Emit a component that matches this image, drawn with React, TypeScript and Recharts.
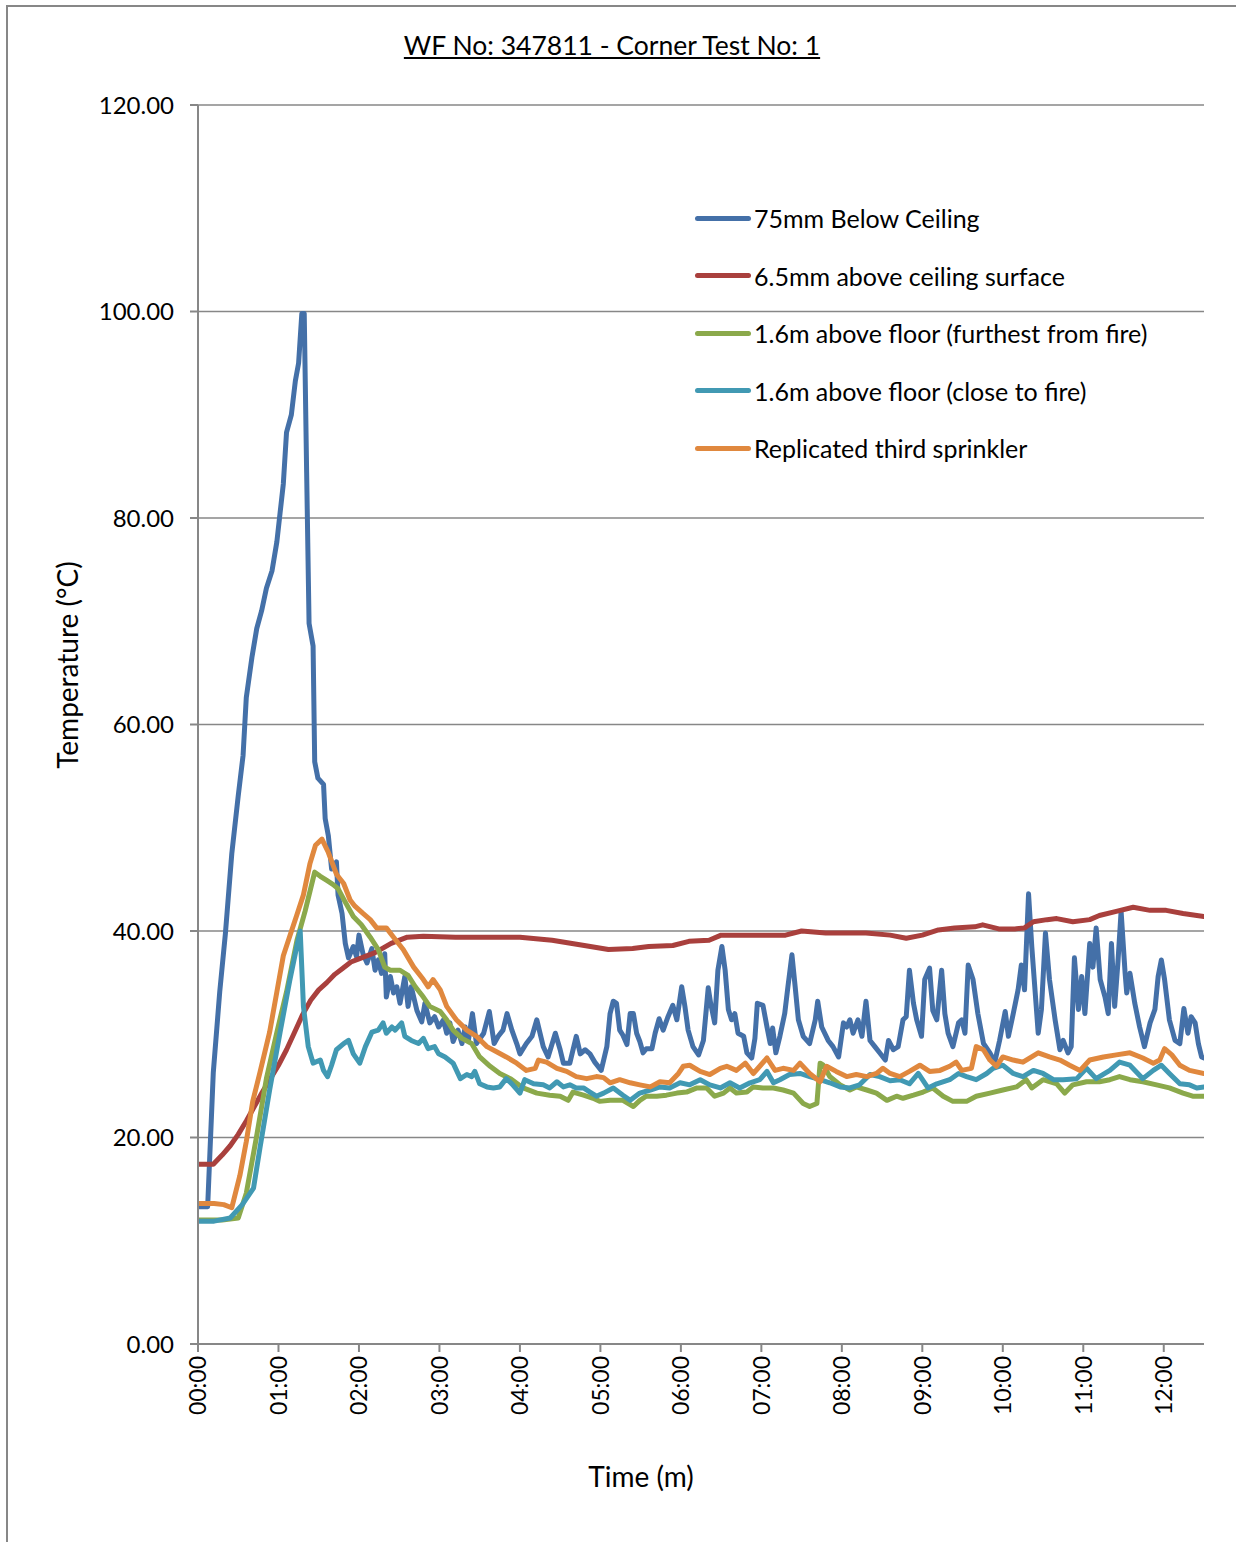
import React from 'react';
import { LineChart, Line, XAxis, YAxis, CartesianGrid } from 'recharts';

// Time in minutes, temperature in °C
const blueTime = [
  0, 0.12, 0.19, 0.27, 0.34, 0.42, 0.5, 0.56, 0.6, 0.67, 0.73, 0.79, 0.85, 0.92, 0.98, 1.02, 1.06, 1.1, 1.16, 1.21,
  1.25, 1.29, 1.32, 1.35, 1.38, 1.43, 1.45, 1.49, 1.56, 1.58, 1.62, 1.66, 1.72, 1.74, 1.79, 1.83, 1.87, 1.93, 1.97, 2.0,
  2.05, 2.1, 2.16, 2.2, 2.24, 2.28, 2.32, 2.34, 2.39, 2.43, 2.47, 2.51, 2.57, 2.61, 2.65, 2.72, 2.78, 2.82, 2.88, 2.94,
  2.99, 3.05, 3.09, 3.13, 3.17, 3.23, 3.28, 3.32, 3.36, 3.41, 3.46, 3.55, 3.62, 3.68, 3.73, 3.79, 3.84, 3.9, 3.96, 4.0,
  4.08, 4.15, 4.21, 4.29, 4.35, 4.44, 4.5, 4.54, 4.62, 4.7, 4.75, 4.81, 4.87, 4.93, 5.01, 5.08, 5.12, 5.16, 5.2, 5.24,
  5.28, 5.33, 5.37, 5.41, 5.45, 5.49, 5.53, 5.57, 5.64, 5.68, 5.73, 5.78, 5.84, 5.9, 5.95, 6.01, 6.05, 6.09, 6.15, 6.22,
  6.28, 6.34, 6.37, 6.42, 6.46, 6.51, 6.55, 6.59, 6.63, 6.67, 6.71, 6.78, 6.82, 6.88, 6.92, 6.95, 7.02, 7.07, 7.11, 7.14,
  7.18, 7.23, 7.29, 7.33, 7.38, 7.42, 7.46, 7.52, 7.6, 7.67, 7.7, 7.75, 7.83, 7.89, 7.96, 8.02, 8.06, 8.1, 8.14, 8.2,
  8.25, 8.3, 8.35, 8.41, 8.47, 8.54, 8.58, 8.64, 8.7, 8.76, 8.8, 8.84, 8.89, 8.93, 8.99, 9.03, 9.09, 9.13, 9.18, 9.24,
  9.28, 9.32, 9.38, 9.45, 9.49, 9.53, 9.57, 9.63, 9.69, 9.76, 9.84, 9.9, 9.96, 10.03, 10.07, 10.13, 10.19, 10.23, 10.27, 10.32,
  10.36, 10.4, 10.44, 10.48, 10.53, 10.58, 10.65, 10.71, 10.75, 10.81, 10.85, 10.89, 10.94, 10.98, 11.02, 11.08, 11.12, 11.16, 11.21, 11.27,
  11.31, 11.35, 11.39, 11.43, 11.47, 11.52, 11.54, 11.58, 11.64, 11.7, 11.76, 11.83, 11.89, 11.93, 11.97, 12.01, 12.07, 12.14, 12.2, 12.25,
  12.3, 12.34, 12.39, 12.43, 12.47, 12.5,
];
const blueTemp = [
  13.3, 13.3, 26.3, 34.1, 39.7, 47.5, 53.1, 57.0, 62.6, 66.5, 69.3, 71.0, 73.2, 74.9, 77.7, 80.5, 83.3, 88.3, 90.0, 93.3,
  95.0, 99.8, 99.8, 84.4, 69.8, 67.6, 56.4, 54.8, 54.2, 50.9, 49.2, 46.0, 46.7, 43.5, 41.7, 38.8, 37.4, 38.5, 37.5, 39.6,
  37.8, 36.9, 38.3, 36.2, 37.2, 35.9, 37.8, 33.6, 35.6, 34.0, 34.6, 33.0, 35.6, 32.7, 34.6, 32.3, 31.2, 33.0, 31.1, 31.7,
  30.7, 31.4, 30.1, 31.1, 29.3, 30.4, 29.1, 30.7, 29.4, 32.0, 29.1, 30.1, 32.2, 29.1, 29.8, 30.4, 32.0, 30.4, 29.1, 28.1,
  29.1, 29.8, 31.4, 28.8, 27.8, 30.1, 28.5, 27.2, 27.2, 29.8, 28.1, 28.5, 28.1, 27.3, 26.5, 28.8, 32.0, 33.2, 33.0, 30.4,
  29.9, 29.0, 32.0, 32.0, 30.1, 29.3, 28.2, 28.6, 28.6, 30.1, 31.5, 30.4, 31.7, 32.8, 31.4, 34.6, 32.7, 30.4, 28.8, 28.0,
  29.4, 34.5, 33.0, 31.1, 36.2, 38.5, 36.2, 32.4, 31.4, 32.0, 30.1, 29.8, 28.2, 27.7, 29.6, 33.0, 32.8, 30.7, 29.1, 30.6,
  28.2, 29.8, 32.0, 34.6, 37.7, 34.6, 31.4, 29.8, 29.1, 31.4, 33.2, 30.7, 29.4, 28.8, 27.8, 31.1, 30.7, 31.4, 30.1, 31.4,
  29.8, 33.2, 29.4, 28.8, 28.2, 27.5, 29.4, 28.5, 28.8, 31.4, 31.7, 36.2, 33.0, 31.4, 29.8, 35.3, 36.4, 32.3, 31.4, 36.2,
  32.0, 30.1, 28.8, 31.1, 31.4, 30.1, 36.7, 35.3, 32.0, 29.1, 28.2, 27.3, 29.4, 32.2, 29.8, 32.0, 34.3, 36.7, 34.3, 43.6,
  38.5, 34.3, 30.1, 32.4, 39.8, 35.3, 31.4, 28.5, 29.4, 28.2, 28.8, 37.4, 32.4, 35.6, 32.0, 38.8, 36.5, 40.3, 35.3, 33.6,
  32.0, 38.8, 32.7, 36.9, 41.9, 35.9, 34.0, 35.9, 33.0, 30.7, 28.8, 31.1, 32.4, 35.6, 37.2, 35.3, 31.4, 29.4, 29.1, 32.5,
  30.1, 31.7, 31.1, 29.1, 27.8, 27.7,
];

const redTime = [
  0, 0.19, 0.3, 0.4, 0.5, 0.6, 0.7, 0.8, 0.9, 1.0, 1.1, 1.2, 1.3, 1.4, 1.5, 1.6, 1.7, 1.8, 1.9, 2.0,
  2.2, 2.4, 2.6, 2.8, 3.2, 3.6, 4.0, 4.4, 4.8, 5.1, 5.4, 5.6, 5.9, 6.1, 6.35, 6.5, 7.0, 7.3, 7.5, 7.8,
  8.0, 8.3, 8.6, 8.8, 9.0, 9.2, 9.4, 9.65, 9.75, 9.95, 10.15, 10.27, 10.38, 10.55, 10.67, 10.87, 11.08, 11.2, 11.41, 11.62,
  11.83, 12.03, 12.24, 12.5,
];
const redTemp = [
  17.4, 17.4, 18.3, 19.2, 20.3, 21.6, 23.0, 24.4, 25.7, 27.0, 28.5, 30.2, 31.9, 33.3, 34.3, 35.0, 35.8, 36.4, 37.0, 37.3,
  37.9, 38.8, 39.4, 39.5, 39.4, 39.4, 39.4, 39.1, 38.6, 38.2, 38.3, 38.5, 38.6, 39.0, 39.1, 39.6, 39.6, 39.6, 40.0, 39.8,
  39.8, 39.8, 39.6, 39.3, 39.6, 40.1, 40.3, 40.4, 40.6, 40.2, 40.2, 40.3, 40.9, 41.1, 41.2, 40.9, 41.1, 41.5, 41.9, 42.3,
  42.0, 42.0, 41.7, 41.4,
];

const greenTime = [
  0, 0.3, 0.5, 0.6, 0.73, 0.85, 0.98, 1.1, 1.23, 1.33, 1.45, 1.52, 1.6, 1.68, 1.74, 1.83, 1.93, 2.03, 2.14, 2.24,
  2.32, 2.39, 2.51, 2.61, 2.7, 2.8, 2.88, 3.01, 3.09, 3.17, 3.28, 3.4, 3.5, 3.63, 3.75, 3.88, 4.04, 4.21, 4.37, 4.5,
  4.6, 4.66, 4.79, 4.91, 4.99, 5.12, 5.28, 5.41, 5.49, 5.57, 5.7, 5.82, 5.95, 6.07, 6.2, 6.32, 6.42, 6.53, 6.61, 6.69,
  6.82, 6.9, 7.02, 7.15, 7.27, 7.4, 7.52, 7.6, 7.69, 7.73, 7.77, 7.85, 7.98, 8.1, 8.18, 8.31, 8.43, 8.56, 8.68, 8.76,
  8.89, 9.01, 9.13, 9.26, 9.38, 9.55, 9.67, 9.84, 10.0, 10.17, 10.29, 10.36, 10.5, 10.67, 10.77, 10.87, 11.04, 11.2, 11.33, 11.45,
  11.58, 11.74, 11.91, 12.07, 12.24, 12.36, 12.5,
];
const greenTemp = [
  12.0, 12.0, 12.2, 14.6, 20.2, 25.7, 30.2, 34.1, 39.1, 41.9, 45.7, 45.3, 44.9, 44.5, 44.1, 42.8, 41.4, 40.6, 39.4, 38.2,
  36.5, 36.2, 36.2, 35.7, 34.6, 33.6, 32.7, 32.2, 31.4, 30.4, 29.6, 29.1, 27.8, 26.9, 26.2, 25.7, 24.8, 24.3, 24.1, 24.0,
  23.6, 24.4, 24.1, 23.8, 23.5, 23.6, 23.6, 23.0, 23.6, 24.0, 24.0, 24.1, 24.3, 24.4, 24.8, 24.8, 24.0, 24.3, 24.8, 24.3,
  24.4, 24.9, 24.8, 24.8, 24.6, 24.3, 23.3, 23.0, 23.3, 27.2, 27.0, 25.9, 25.1, 24.6, 24.9, 24.6, 24.3, 23.6, 24.0, 23.8,
  24.1, 24.4, 24.8, 24.0, 23.5, 23.5, 24.0, 24.3, 24.6, 24.9, 25.6, 24.8, 25.6, 25.2, 24.3, 25.1, 25.4, 25.4, 25.6, 25.9,
  25.6, 25.4, 25.1, 24.8, 24.3, 24.0, 24.0,
];

const cyanTime = [
  0, 0.2, 0.4, 0.55, 0.69, 0.77, 0.89, 1.02, 1.14, 1.23, 1.27, 1.31, 1.37, 1.43, 1.52, 1.56, 1.61, 1.66, 1.72, 1.81,
  1.87, 1.93, 2.01, 2.08, 2.16, 2.24, 2.3, 2.34, 2.41, 2.45, 2.53, 2.57, 2.65, 2.74, 2.8, 2.86, 2.94, 2.99, 3.07, 3.17,
  3.26, 3.34, 3.4, 3.44, 3.5, 3.59, 3.67, 3.75, 3.83, 3.9, 4.0, 4.06, 4.17, 4.29, 4.37, 4.46, 4.54, 4.62, 4.7, 4.79,
  4.87, 4.95, 5.04, 5.16, 5.28, 5.37, 5.49, 5.62, 5.74, 5.86, 5.99, 6.11, 6.24, 6.36, 6.49, 6.61, 6.73, 6.86, 6.98, 7.07,
  7.15, 7.23, 7.35, 7.48, 7.6, 7.73, 7.85, 7.98, 8.1, 8.22, 8.35, 8.47, 8.6, 8.72, 8.84, 8.95, 9.07, 9.18, 9.34, 9.45,
  9.55, 9.67, 9.8, 9.88, 10.0, 10.13, 10.25, 10.38, 10.5, 10.63, 10.75, 10.92, 11.04, 11.16, 11.33, 11.45, 11.58, 11.74, 11.87, 11.97,
  12.07, 12.2, 12.32, 12.41, 12.5,
];
const cyanTemp = [
  11.9, 11.9, 12.2, 13.5, 15.1, 19.0, 24.6, 30.2, 35.2, 38.6, 40.0, 32.7, 28.8, 27.2, 27.5, 26.5, 25.9, 27.0, 28.5, 29.1,
  29.4, 28.1, 27.2, 28.8, 30.2, 30.4, 31.1, 30.1, 30.7, 30.4, 31.1, 29.8, 29.4, 29.1, 29.6, 28.6, 28.8, 28.1, 27.8, 27.2,
  25.7, 26.1, 25.9, 26.4, 25.2, 24.9, 24.8, 24.9, 25.7, 25.2, 24.3, 25.6, 25.2, 25.1, 24.8, 25.4, 24.9, 25.1, 24.8, 24.8,
  24.4, 24.0, 24.3, 24.8, 24.1, 23.6, 24.3, 24.6, 24.9, 24.8, 25.3, 25.1, 25.6, 25.1, 24.8, 25.3, 24.8, 25.3, 25.6, 26.4,
  25.3, 25.6, 26.1, 26.2, 25.9, 25.6, 25.3, 24.9, 24.8, 25.1, 26.1, 25.9, 25.5, 25.6, 25.2, 26.2, 24.8, 25.2, 25.6, 26.2,
  25.9, 25.6, 26.2, 26.7, 27.0, 26.2, 25.9, 26.5, 26.2, 25.6, 25.6, 25.7, 26.7, 25.7, 26.5, 27.3, 27.0, 25.7, 26.5, 27.0,
  26.2, 25.2, 25.1, 24.8, 24.9,
];

const orangeTime = [
  0, 0.2, 0.32, 0.42, 0.52, 0.6, 0.68, 0.77, 0.89, 0.98, 1.06, 1.14, 1.23, 1.31, 1.39, 1.46, 1.54, 1.62, 1.72, 1.81,
  1.89, 1.95, 2.05, 2.14, 2.22, 2.34, 2.43, 2.55, 2.68, 2.8, 2.86, 2.92, 3.01, 3.09, 3.21, 3.34, 3.46, 3.59, 3.71, 3.83,
  3.96, 4.08, 4.19, 4.23, 4.33, 4.46, 4.58, 4.7, 4.83, 4.95, 5.04, 5.12, 5.24, 5.37, 5.49, 5.62, 5.74, 5.86, 5.97, 6.03,
  6.11, 6.24, 6.36, 6.49, 6.57, 6.69, 6.8, 6.9, 6.98, 7.07, 7.17, 7.27, 7.4, 7.48, 7.6, 7.73, 7.81, 7.93, 8.06, 8.18,
  8.31, 8.43, 8.51, 8.6, 8.72, 8.84, 8.97, 9.09, 9.22, 9.34, 9.42, 9.49, 9.61, 9.67, 9.76, 9.84, 9.92, 10.0, 10.13, 10.25,
  10.44, 10.58, 10.71, 10.83, 10.96, 11.08, 11.25, 11.41, 11.58, 11.74, 11.87, 11.95, 12.01, 12.1, 12.2, 12.32, 12.5,
];
const orangeTemp = [
  13.6, 13.6, 13.5, 13.2, 16.3, 19.6, 23.5, 26.3, 30.2, 34.1, 37.6, 39.5, 41.6, 43.5, 46.5, 48.3, 48.9, 47.6, 45.5, 44.6,
  43.0, 42.4, 41.7, 41.1, 40.3, 40.3, 39.4, 38.2, 36.5, 35.3, 34.6, 35.3, 34.3, 32.7, 31.4, 30.4, 29.8, 28.8, 28.3, 27.8,
  27.2, 26.5, 26.7, 27.5, 27.3, 26.7, 26.4, 25.9, 25.7, 25.9, 25.8, 25.3, 25.6, 25.3, 25.1, 24.9, 25.4, 25.3, 26.2, 26.9,
  27.0, 26.4, 26.1, 26.7, 26.9, 26.5, 27.2, 26.2, 26.9, 27.7, 26.5, 26.7, 26.5, 27.2, 26.2, 25.4, 26.9, 26.4, 25.9, 26.1,
  25.9, 26.2, 26.7, 26.2, 25.9, 26.4, 27.0, 26.4, 26.5, 26.9, 27.3, 26.5, 26.7, 28.8, 28.5, 27.5, 26.9, 27.8, 27.5, 27.3,
  28.2, 27.8, 27.5, 27.0, 26.5, 27.5, 27.8, 28.0, 28.2, 27.7, 27.2, 27.5, 28.6, 28.0, 27.0, 26.5, 26.2,
];

const seriesNames = [
  '75mm Below Ceiling',
  '6.5mm above ceiling surface',
  '1.6m above floor (furthest from fire)',
  '1.6m above floor (close to fire)',
  'Replicated third sprinkler',
];
const seriesColors = ['#4470A8', '#A9403D', '#8BA94B', '#4199B3', '#E0883E'];

const xTicks = [0, 1, 2, 3, 4, 5, 6, 7, 8, 9, 10, 11, 12];
const xTickLabels = ['00:00', '01:00', '02:00', '03:00', '04:00', '05:00', '06:00', '07:00', '08:00', '09:00', '10:00', '11:00', '12:00'];
const yTicks = [0, 20, 40, 60, 80, 100, 120];

const FONT = 'Lato, "Open Sans", sans-serif';
const AXIS = '#878787';

const toRows = (times: number[], temps: number[]) => times.map((t, i) => ({ t, v: temps[i] }));

const seriesData = [
  toRows(blueTime, blueTemp),
  toRows(redTime, redTemp),
  toRows(greenTime, greenTemp),
  toRows(cyanTime, cyanTemp),
  toRows(orangeTime, orangeTemp),
];

const TimeTick = (props: any) => {
  const { x, payload } = props;
  const label = xTickLabels[xTicks.indexOf(payload.value)] ?? '';
  const y = 1356;
  return (
    <text
      x={x}
      y={y}
      transform={`rotate(-90, ${x}, ${y})`}
      textAnchor="end"
      dy="0.36em"
      fontSize={23}
      fontFamily={FONT}
      fill="#000"
    >
      {label}
    </text>
  );
};

export default function App() {
  return (
    <div style={{ position: 'absolute', left: 0, top: 0, width: 1236, height: 1542, background: '#fff', overflow: 'hidden', fontFamily: FONT }}>
      <div style={{ position: 'absolute', left: 6, top: 5, width: 1260, height: 1600, borderLeft: `2px solid ${AXIS}`, borderTop: `2px solid ${AXIS}` }} />
      <LineChart
        width={1236}
        height={1542}
        margin={{ top: 105, right: 32, bottom: 118, left: 98 }}
        style={{ position: 'absolute', left: 0, top: 0 }}
      >
        <CartesianGrid vertical={false} stroke={AXIS} strokeWidth={1.5} />
        <XAxis
          type="number"
          dataKey="t"
          domain={[0, 12.5]}
          ticks={xTicks}
          allowDataOverflow
          height={80}
          tickSize={8}
          axisLine={{ stroke: AXIS, strokeWidth: 2 }}
          tickLine={{ stroke: AXIS, strokeWidth: 2 }}
          tick={<TimeTick />}
          interval={0}
        />
        <YAxis
          type="number"
          dataKey="v"
          domain={[0, 120]}
          ticks={yTicks}
          width={100}
          tickSize={8}
          tickMargin={16}
          axisLine={{ stroke: AXIS, strokeWidth: 2 }}
          tickLine={{ stroke: AXIS, strokeWidth: 2 }}
          tickFormatter={(v: number) => v.toFixed(2)}
          tick={{ fontSize: 24, fontFamily: FONT, fill: '#000' }}
          interval={0}
        />
        {seriesData.map((rows, i) => (
          <Line
            key={seriesNames[i]}
            data={rows}
            dataKey="v"
            name={seriesNames[i]}
            type="linear"
            stroke={seriesColors[i]}
            strokeWidth={5}
            strokeLinejoin="round"
            strokeLinecap="round"
            dot={false}
            activeDot={false}
            isAnimationActive={false}
          />
        ))}
      </LineChart>

      <div style={{ position: 'absolute', left: 0, width: 1224, top: 29, textAlign: 'center', fontSize: 26.5, textDecoration: 'underline', color: '#000' }}>
        WF No: 347811 - Corner Test No: 1
      </div>

      <div
        style={{
          position: 'absolute',
          left: 67,
          top: 665,
          transform: 'translate(-50%, -50%) rotate(-90deg)',
          whiteSpace: 'nowrap',
          fontSize: 28,
          color: '#000',
        }}
      >
        Temperature (°C)
      </div>

      <div style={{ position: 'absolute', left: 541, width: 200, top: 1459, textAlign: 'center', fontSize: 28, color: '#000' }}>
        Time (m)
      </div>

      {seriesNames.map((name, i) => (
        <div key={name} style={{ position: 'absolute', left: 695, top: 218 + i * 57.5 - 17, height: 34, display: 'flex', alignItems: 'center', whiteSpace: 'nowrap' }}>
          <div style={{ width: 56, height: 5, borderRadius: 3, background: seriesColors[i], marginRight: 3 }} />
          <span style={{ fontSize: 25, color: '#000' }}>{name}</span>
        </div>
      ))}
    </div>
  );
}
